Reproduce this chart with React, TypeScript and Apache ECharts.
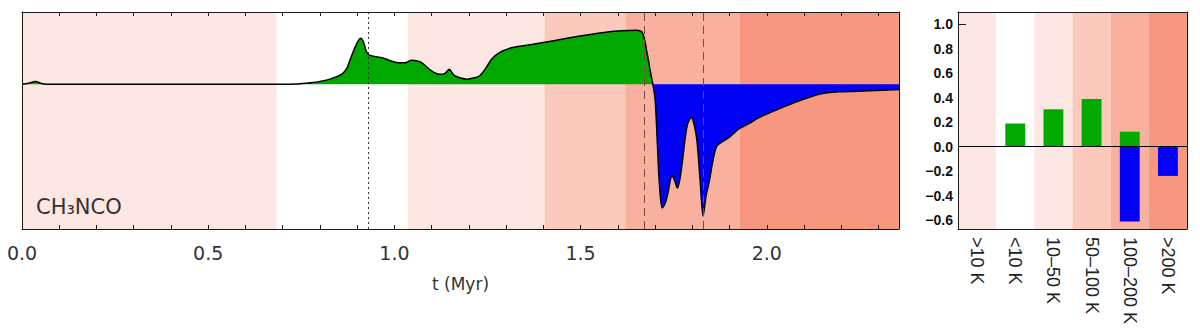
import React, { useEffect, useRef } from 'react';
import * as echarts from 'echarts';

// ---- time evolution of CH3NCO (left panel) ----
const curveT = [
  0.0, 0.018, 0.036, 0.055, 0.08, 0.3, 0.6, 0.692, 0.74, 0.781, 0.827, 0.859, 0.872, 0.88, 0.894,
  0.904, 0.91, 0.918, 0.925, 0.935, 0.969, 0.987, 1.01, 1.03, 1.046, 1.062, 1.073, 1.1, 1.121,
  1.135, 1.148, 1.155, 1.162, 1.194, 1.215, 1.229, 1.245, 1.261, 1.282, 1.317, 1.36, 1.424, 1.49,
  1.558, 1.61, 1.649, 1.666, 1.679, 1.688, 1.694, 1.7, 1.706, 1.711, 1.719, 1.726, 1.733, 1.746,
  1.753, 1.76, 1.767, 1.773, 1.786, 1.797, 1.806, 1.813, 1.821, 1.829, 1.837, 1.845, 1.856, 1.867,
  1.899, 1.926, 1.952, 1.979, 2.033, 2.087, 2.14, 2.194, 2.274, 2.355,
];
const curveV = [
  0.0, 0.008, 0.019, 0.004, 0.0, 0.0, 0.0, 0.0, 0.003, 0.012, 0.036, 0.07, 0.11, 0.162, 0.254,
  0.305, 0.319, 0.286, 0.225, 0.2, 0.183, 0.165, 0.15, 0.15, 0.167, 0.162, 0.15, 0.093, 0.07,
  0.074, 0.105, 0.08, 0.059, 0.036, 0.045, 0.059, 0.11, 0.174, 0.219, 0.254, 0.272, 0.3, 0.33,
  0.357, 0.37, 0.374, 0.357, 0.208, 0.08, 0.0, -0.1, -0.401, -0.666, -0.855, -0.83, -0.769, -0.631,
  -0.67, -0.717, -0.65, -0.539, -0.286, -0.229, -0.29, -0.401, -0.666, -0.91, -0.769, -0.677, -0.52, -0.424,
  -0.367, -0.307, -0.272, -0.229, -0.169, -0.114, -0.068, -0.052, -0.045, -0.036,
];
const xTickLabels = [0, 0.5, 1.0, 1.5, 2.0];
const dottedLineT = [0.934];
const dashedLineT = [1.674, 1.827];

// ---- temperature regimes ----
const regimeEdges = [0, 0.684, 1.036, 1.403, 1.62, 1.928, 2.355];
const regimeColors = ['#fde7e2', '#ffffff', '#fde7e2', '#fccabd', '#fab09f', '#f8977f'];
const regimeLabels = ['>10 K', '<10 K', '10–50 K', '50–100 K', '100–200 K', '>200 K'];

// ---- integrated contributions (right panel) ----
const barPositive = [0.004, 0.19, 0.305, 0.389, 0.122, 0];
const barNegative = [0, 0, 0, 0, -0.611, -0.239];
const barTickLabels = [-0.6, -0.4, -0.2, 0.0, 0.2, 0.4, 0.6, 0.8, 1.0];
const barTickMarks = [1.0];

const GREEN = '#00a800';
const BLUE = '#0000f5';
const FRAME = '#1a1a1a';

export default function App() {
  const ref = useRef<HTMLDivElement>(null);
  useEffect(() => {
    if (!ref.current) return;
    const chart = echarts.init(ref.current, undefined, { renderer: 'svg' });
    const frameLine = { show: true, onZero: false, lineStyle: { color: FRAME, width: 1 } };
    const hidden = { show: false };
    const option: any = {
      animation: false,
      grid: [
        { left: 22, right: 301, top: 12, bottom: 107 },
        { left: 958, right: 13, top: 12, bottom: 107 },
      ],
      xAxis: [
        {
          type: 'value', gridIndex: 0, min: 0, max: 2.355, interval: 0.1, position: 'bottom',
          axisLine: frameLine,
          axisTick: { show: true, inside: true, length: 4, lineStyle: { color: FRAME } },
          axisLabel: {
            customValues: xTickLabels, formatter: (v: number) => v.toFixed(1),
            fontFamily: 'DejaVu Sans', fontSize: 19, color: '#333', margin: 14,
          },
          splitLine: hidden,
          name: 't (Myr)', nameLocation: 'middle', nameGap: 46,
          nameTextStyle: { fontFamily: 'DejaVu Sans', fontSize: 17, color: '#333' },
          z: 5,
        },
        {
          type: 'value', gridIndex: 0, min: 0, max: 2.355, interval: 0.1, position: 'top',
          axisLine: frameLine,
          axisTick: { show: true, inside: true, length: 4, lineStyle: { color: FRAME } },
          axisLabel: hidden, splitLine: hidden, z: 5,
        },
        {
          type: 'category', gridIndex: 1, data: regimeLabels, position: 'bottom',
          axisLine: frameLine, axisTick: hidden,
          axisLabel: {
            rotate: -90, interval: 0, fontFamily: 'Liberation Sans', fontSize: 18,
            color: '#222', margin: 8,
          },
          z: 5,
        },
        {
          type: 'value', gridIndex: 1, min: 0, max: regimeLabels.length, position: 'top',
          axisLine: frameLine, axisTick: hidden, axisLabel: hidden, splitLine: hidden, z: 5,
        },
      ],
      yAxis: [
        {
          type: 'value', gridIndex: 0, min: -1, max: 0.5, position: 'left',
          axisLine: frameLine, axisTick: hidden, axisLabel: hidden, splitLine: hidden, z: 5,
        },
        {
          type: 'value', gridIndex: 0, min: -1, max: 0.5, position: 'right',
          axisLine: frameLine, axisTick: hidden, axisLabel: hidden, splitLine: hidden, z: 5,
        },
        {
          type: 'value', gridIndex: 1, min: -0.673, max: 1.1, position: 'left',
          axisLine: frameLine,
          axisTick: { show: true, inside: true, length: 8, customValues: barTickMarks, lineStyle: { color: FRAME } },
          axisLabel: {
            customValues: barTickLabels,
            formatter: (v: number) => (v < -1e-9 ? '−' : '') + Math.abs(v).toFixed(1),
            fontFamily: 'Liberation Sans', fontWeight: 'bold', fontSize: 14, color: '#111', margin: 5,
          },
          splitLine: hidden, z: 5,
        },
        {
          type: 'value', gridIndex: 1, min: -0.673, max: 1.1, position: 'right',
          axisLine: frameLine, axisTick: hidden, axisLabel: hidden, splitLine: hidden, z: 5,
        },
      ],
      graphic: [
        {
          type: 'text', left: 36, top: 196, z: 10,
          style: { text: 'CH₃NCO', fontFamily: 'DejaVu Sans', fontSize: 21, fill: '#333' },
        },
      ],
      series: [
        {
          type: 'line', xAxisIndex: 0, yAxisIndex: 0, data: [[0, 0]], showSymbol: false, silent: true,
          lineStyle: { width: 0, opacity: 0 },
          markArea: {
            silent: true,
            data: regimeColors.map((c, i) => [
              { xAxis: regimeEdges[i], itemStyle: { color: c } },
              { xAxis: regimeEdges[i + 1] },
            ]),
          },
        },
        {
          type: 'line', xAxisIndex: 0, yAxisIndex: 0, smooth: 0.3, showSymbol: false, silent: true,
          data: curveT.map((t, i) => [t, Math.max(curveV[i], 0)]),
          lineStyle: { width: 0, opacity: 0 },
          areaStyle: { color: GREEN, opacity: 1 },
        },
        {
          type: 'line', xAxisIndex: 0, yAxisIndex: 0, smooth: 0.3, showSymbol: false, silent: true,
          data: curveT.map((t, i) => [t, Math.min(curveV[i], 0)]),
          lineStyle: { width: 0, opacity: 0 },
          areaStyle: { color: BLUE, opacity: 1 },
        },
        {
          type: 'line', xAxisIndex: 0, yAxisIndex: 0, smooth: 0.3, showSymbol: false, silent: true,
          data: curveT.map((t, i) => [t, curveV[i]]),
          lineStyle: { color: '#000', width: 1.5 },
          markLine: {
            silent: true, symbol: ['none', 'none'], label: hidden,
            data: [
              ...dottedLineT.map((t) => ({ xAxis: t, lineStyle: { color: '#333', width: 1, type: [2, 3] } })),
              ...dashedLineT.map((t) => ({ xAxis: t, lineStyle: { color: '#7a4b43', width: 1, type: [8, 5] } })),
            ],
          },
        },
        {
          type: 'line', xAxisIndex: 3, yAxisIndex: 2, data: [[0, 0]], showSymbol: false, silent: true,
          lineStyle: { width: 0, opacity: 0 },
          markArea: {
            silent: true,
            data: regimeColors.map((c, i) => [
              { xAxis: i, itemStyle: { color: c } },
              { xAxis: i + 1 },
            ]),
          },
        },
        {
          type: 'bar', xAxisIndex: 2, yAxisIndex: 2, data: barPositive, barWidth: '52%', barGap: '-100%',
          itemStyle: { color: GREEN }, silent: true,
        },
        {
          type: 'bar', xAxisIndex: 2, yAxisIndex: 2, data: barNegative, barWidth: '52%', barGap: '-100%',
          itemStyle: { color: BLUE }, silent: true,
          markLine: {
            silent: true, symbol: ['none', 'none'], label: hidden,
            data: [{ yAxis: 0, lineStyle: { color: '#000', width: 1, type: 'solid' } }],
          },
        },
      ],
    };
    chart.setOption(option);
    return () => chart.dispose();
  }, []);
  return (
    <div
      ref={ref}
      style={{ position: 'absolute', left: 0, top: 0, width: 1200, height: 336, background: '#fff' }}
    />
  );
}
